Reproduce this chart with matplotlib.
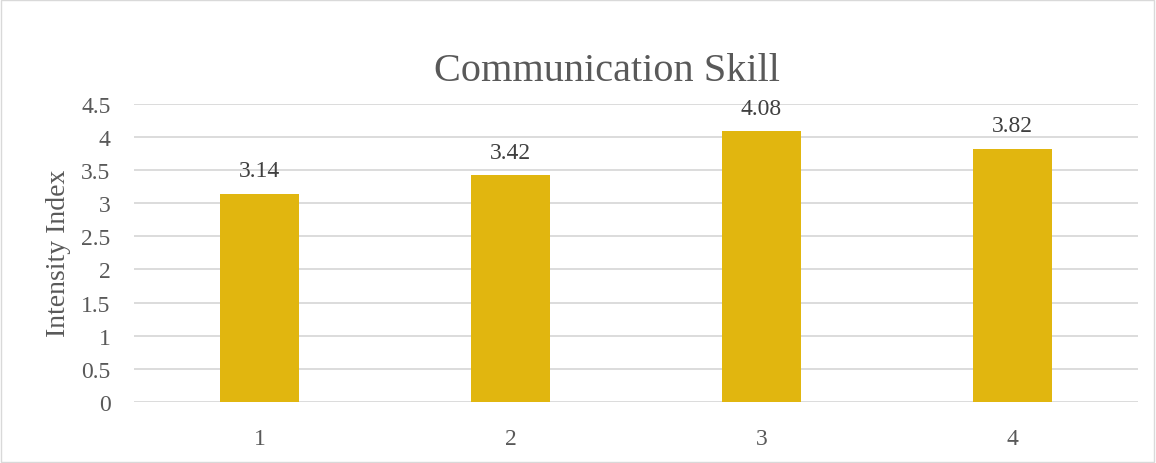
import matplotlib
matplotlib.use("Agg")
import matplotlib.pyplot as plt
from matplotlib.patches import Rectangle

categories = ["1", "2", "3", "4"]
values = [3.14, 3.42, 4.08, 3.82]
yticks = [0, 0.5, 1, 1.5, 2, 2.5, 3, 3.5, 4, 4.5]
ytick_labels = ["0", "0.5", "1", "1.5", "2", "2.5", "3", "3.5", "4", "4.5"]
title = "Communication Skill"
ylabel = "Intensity Index"

plt.rcParams['font.family'] = ['Liberation Serif', 'DejaVu Serif']
txt = "#595959"

fig = plt.figure(figsize=(11.56, 4.64), dpi=100)
fig.patches.append(Rectangle((0.001, 0.003), 0.997, 0.994, transform=fig.transFigure,
                             fill=False, edgecolor="#D9D9D9", linewidth=1))
ax = fig.add_axes([134/1156, 1-403/464, (1138-134)/1156, (403-104.5)/464])
x = list(range(len(categories)))
ax.bar(x, values, width=0.313, color="#E1B60F", zorder=3)
ax.set_xlim(-0.5, len(categories) - 0.5)
ax.set_ylim(0, 4.5)
ax.set_yticks(yticks)
ax.set_yticklabels(ytick_labels)
ax.set_xticks(x)
ax.set_xticklabels(categories)
ax.grid(axis="y", color="#D9D9D9", linewidth=1.3, zorder=0)
for s in ax.spines.values():
    s.set_visible(False)
ax.tick_params(axis="both", length=0, labelsize=17, colors=txt)
ax.tick_params(axis="y", pad=17)
ax.tick_params(axis="x", pad=19)
for xi, v in zip(x, values):
    ax.annotate(f"{v:.2f}", (xi, v), xytext=(0, 9), textcoords="offset points",
                ha="center", va="bottom", fontsize=17, color="#404040")
ax.set_ylabel(ylabel, fontsize=20, color=txt, labelpad=7)
fig.text(606.5 / 1156, 1 - 81/464, title, ha="center", va="baseline",
         fontsize=29, color=txt)
fig.savefig("out.png", dpi=100)
